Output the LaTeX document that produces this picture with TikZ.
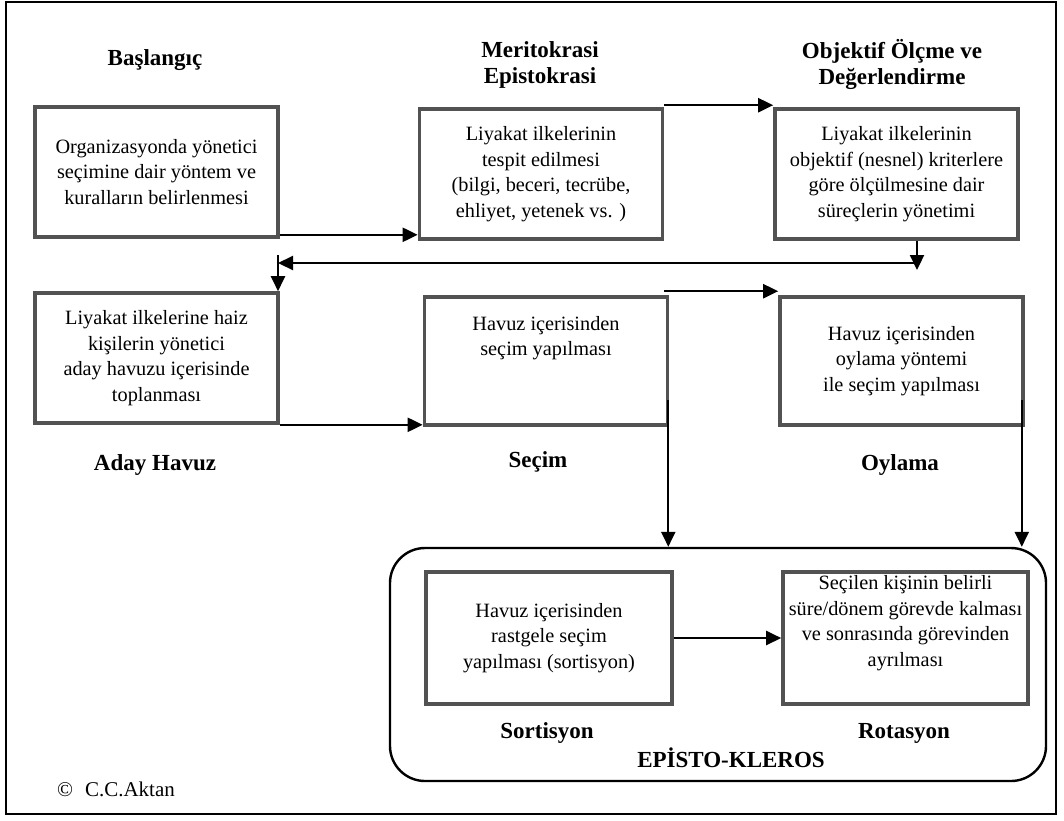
\documentclass[tikz,border=0pt]{standalone}
\usepackage{fontspec}
\setmainfont{Liberation Serif}
\usetikzlibrary{arrows.meta,positioning}

\begin{document}
\begin{tikzpicture}[x=1pt,y=-1pt,
  kutu/.style={draw=black!68, line width=3.6pt, minimum width=243pt, minimum height=130pt,
    align=center, inner sep=2pt, font=\fontsize{20.3}{25.5}\selectfont},
  metin/.style={align=center, inner sep=0pt, font=\fontsize{20.3}{25.5}\selectfont},
  baslik/.style={align=center, font=\fontsize{23}{26}\selectfont\bfseries},
  ok/.style={line width=2.2pt, -{Triangle[length=15pt,width=14pt]}}]

\useasboundingbox (0,0) rectangle (1064,820);
\draw[line width=2.8pt] (6,2) rectangle (1056,814);

% kutular
\node[kutu] (b1) at (156.5,172) {Organizasyonda yönetici\\seçimine dair yöntem ve\\kuralların belirlenmesi};
\node[kutu] (b2) at (541,174) {Liyakat ilkelerinin\\tespit edilmesi\\(bilgi, beceri, tecrübe,\\ehliyet, yetenek vs. )};
\node[kutu] (b3) at (896.5,174) {Liyakat ilkelerinin\\objektif (nesnel) kriterlere\\göre ölçülmesine dair\\süreçlerin yönetimi};
\node[kutu] (b4) at (156.5,358) {Liyakat ilkelerine haiz\\kişilerin yönetici\\aday havuzu  içerisinde\\toplanması};
\node[kutu, minimum height=128pt] (b5) at (546,361) {};
\node[metin, below=21pt of b5.north] (m5) {Havuz içerisinden\\seçim yapılması};
\node[kutu, minimum height=128pt] (b6) at (901.5,361) {Havuz içerisinden\\oylama yöntemi\\ile seçim yapılması};

\node[draw, line width=2.4pt, rounded corners=35pt, minimum width=656pt, minimum height=233pt] (ep) at (718,664.5) {};
\node[kutu, minimum width=246pt, minimum height=132pt] (b7) at (549,638) {Havuz içerisinden\\rastgele seçim\\yapılması (sortisyon)};
\node[kutu, minimum width=245pt, minimum height=132pt] (b8) at (905.5,638) {};
\node[metin, below=5pt of b8.north] (m8) {Seçilen kişinin belirli\\süre/dönem görevde kalması\\ve  sonrasında görevinden\\ayrılması};

% basliklar
\node[baslik] (t1) at (155,60) {Başlangıç};
\node[baslik] (t2) at (540,65) {Meritokrasi\\Epistokrasi};
\node[baslik] (t3) at (892,64) {Objektif Ölçme ve\\Değerlendirme};
\node[baslik] (t4) at (155,465) {Aday Havuz};
\node[baslik] (t5) at (538,462) {Seçim};
\node[baslik] (t6) at (900,465) {Oylama};
\node[baslik] (t7) at (547,733) {Sortisyon};
\node[baslik] (t8) at (904,733) {Rotasyon};
\node[baslik] (t9) at (731,758) {EPİSTO-KLEROS};
\node[metin, font=\fontsize{21}{24}\selectfont] (c) at (116,789) {©\hspace{12pt}C.C.Aktan};

% oklar
\coordinate (d1) at (917,270);
\coordinate (d2) at (917,263);
\coordinate (d3) at (278,263);
\coordinate (d4) at (278,255);

\draw[ok] ([yshift=4pt]b1.south east) -- ([yshift=6pt]b2.south west);
\draw[ok] ([yshift=2pt]b2.north east) -- ([yshift=2pt]b3.north west);
\draw[ok] (b3.south -| d1) -- (d1);
\draw[ok] (d2) -- (d3);
\draw[ok] (d4) -- (d4 |- b4.north);
\draw[ok] (b4.south east) -- ([yshift=2pt]b5.south west);
\draw[ok] ([xshift=-5pt,yshift=4pt]b5.north east) -- ([yshift=4pt]b6.north west);
\draw[ok] ([xshift=-1pt,yshift=-39pt]b5.east) -- ([xshift=-1pt]b5.east |- ep.north);
\draw[ok] ([xshift=-3pt,yshift=-39pt]b6.east) -- ([xshift=-3pt]b6.east |- ep.north);
\draw[ok] (b7) -- (b8);
\end{tikzpicture}
\end{document}
